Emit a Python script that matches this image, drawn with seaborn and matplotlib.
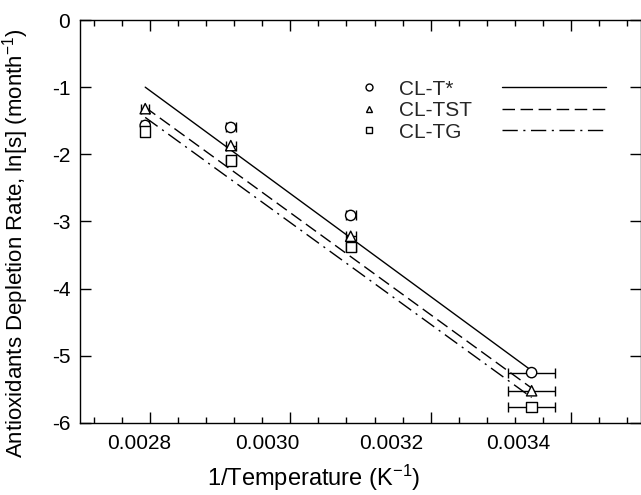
import numpy as np
import pandas as pd
import matplotlib
matplotlib.use("Agg")
import matplotlib.pyplot as plt
from matplotlib.transforms import offset_copy
from matplotlib.lines import Line2D
from matplotlib.ticker import FixedLocator, NullFormatter
import seaborn as sns

# Inverse ageing temperature (1/K) and its uncertainty
inv_temp = [0.002793, 0.002915, 0.003086, 0.003344]
inv_temp_err = [0.000006, 0.000007, 0.000007, 0.000033]

# ln of antioxidant depletion rate (1/month) for each compound
series_names = ["CL-T*", "CL-TST", "CL-TG"]
ln_s_clt = [-1.57, -1.60, -2.91, -5.25]
ln_s_cltst = [-1.32, -1.87, -3.22, -5.52]
ln_s_cltg = [-1.66, -2.09, -3.38, -5.76]

# Arrhenius fit lines: value at the lowest and highest 1/T
fit_at_min = [-1.00, -1.30, -1.45]
fit_at_max = [-5.22, -5.48, -5.62]

x_ticks = [0.0028, 0.0030, 0.0032, 0.0034]
x_tick_labels = ["0.0028", "0.0030", "0.0032", "0.0034"]
y_ticks = [0, -1, -2, -3, -4, -5, -6]
y_tick_labels = ["0", "-1", "-2", "-3", "-4", "-5", "-6"]

marker_map = {"CL-T*": "o", "CL-TST": "^", "CL-TG": "s"}
dash_map = {"CL-T*": "", "CL-TST": (9, 4), "CL-TG": (11, 4, 1.5, 4)}

sns.set_theme(style="ticks")
plt.rcParams["font.family"] = ["Liberation Sans", "DejaVu Sans"]
plt.rcParams["mathtext.fontset"] = "custom"
plt.rcParams["mathtext.rm"] = "Liberation Sans"
plt.rcParams["mathtext.it"] = "Liberation Sans:italic"
plt.rcParams["axes.edgecolor"] = "black"
plt.rcParams["axes.linewidth"] = 1.0

points = pd.DataFrame(
    [
        dict(series=name, inv_temp=x, xerr=xe, ln_s=y)
        for name, vals in zip(series_names, [ln_s_clt, ln_s_cltst, ln_s_cltg])
        for x, xe, y in zip(inv_temp, inv_temp_err, vals)
    ]
)
fits = pd.DataFrame(
    [
        dict(series=name, inv_temp=x, ln_s=y)
        for name, y0, y1 in zip(series_names, fit_at_min, fit_at_max)
        for x, y in ((min(inv_temp), y0), (max(inv_temp), y1))
    ]
)

fig = plt.figure(figsize=(6.41, 4.95), dpi=100)
ax = fig.add_axes([80 / 641, 72 / 495, 561 / 641, 403 / 495])

sns.lineplot(data=fits, x="inv_temp", y="ln_s", style="series", dashes=dash_map,
             color="black", linewidth=1.0, legend=False, ax=ax, zorder=2)
ax.errorbar(points["inv_temp"], points["ln_s"], xerr=points["xerr"], fmt="none",
            ecolor="black", elinewidth=1.0, capsize=3.6, capthick=1.0, zorder=3)
sns.scatterplot(data=points, x="inv_temp", y="ln_s", style="series", markers=marker_map,
                color="white", edgecolor="black", linewidth=1.0, s=55, legend=False,
                ax=ax, zorder=4)

ax.set_xlim(0.0027, 0.0035)
ax.set_ylim(-6, 0)
ax.xaxis.set_major_locator(FixedLocator(x_ticks))
ax.xaxis.set_major_formatter(NullFormatter())
ax.xaxis.set_minor_locator(FixedLocator(np.arange(0.00272, 0.00350, 0.00004)))
ax.yaxis.set_major_locator(FixedLocator(y_ticks))
ax.set_yticklabels(y_tick_labels)
ax.tick_params(which="both", direction="in", top=True, right=True, color="black",
               width=1.0, labelsize=15, labelcolor="black")
ax.tick_params(which="major", length=8)
ax.tick_params(which="minor", length=4)
ax.tick_params(axis="y", pad=7)
for side in ax.spines.values():
    side.set_visible(True)
    side.set_color("black")

# x tick labels, each nudged left a little
label_shift_px = [-11, -23, -39, -53]
for tick, text, dx in zip(x_ticks, x_tick_labels, label_shift_px):
    ax.text(tick, 0, text, ha="center", va="top", fontsize=15, color="black",
            transform=offset_copy(ax.get_xaxis_transform(), fig=fig, x=dx, y=-11,
                                  units="dots"))

ax.set_xlabel("1/Temperature (K$^{\\mathregular{-1}}$)", fontsize=17, color="black")
ax.set_ylabel("Antioxidants Depletion Rate, ln[s] (month$^{\\mathregular{-1}}$)",
              fontsize=16, color="black")
ax.xaxis.set_label_coords(0.417, -0.098)
ax.yaxis.set_label_coords(-0.088, 0.447)

# Legend: marker + name on the left, line sample on the right
marker_handles = [
    Line2D([], [], ls="none", marker=marker_map[n], mfc="white", mec="black", mew=1.0, ms=5)
    for n in series_names
]
line_handles = [
    Line2D([], [], color="black", lw=1.0,
           dashes=dash_map[n] if dash_map[n] else (None, None))
    for n in series_names
]
leg1 = ax.legend(marker_handles, series_names, loc="upper left",
                 bbox_to_anchor=(0.498, 0.852), frameon=False, fontsize=15,
                 handlelength=0.9, handletextpad=1.0, labelspacing=0.12,
                 borderpad=0.0, borderaxespad=0.0)
ax.add_artist(leg1)
ax.legend(line_handles, [" "] * 3, loc="upper left", bbox_to_anchor=(0.752, 0.852),
          frameon=False, fontsize=15, handlelength=5.0, handletextpad=0.0,
          labelspacing=0.12, borderpad=0.0, borderaxespad=0.0)

fig.savefig("out.png", dpi=100, facecolor="white")
